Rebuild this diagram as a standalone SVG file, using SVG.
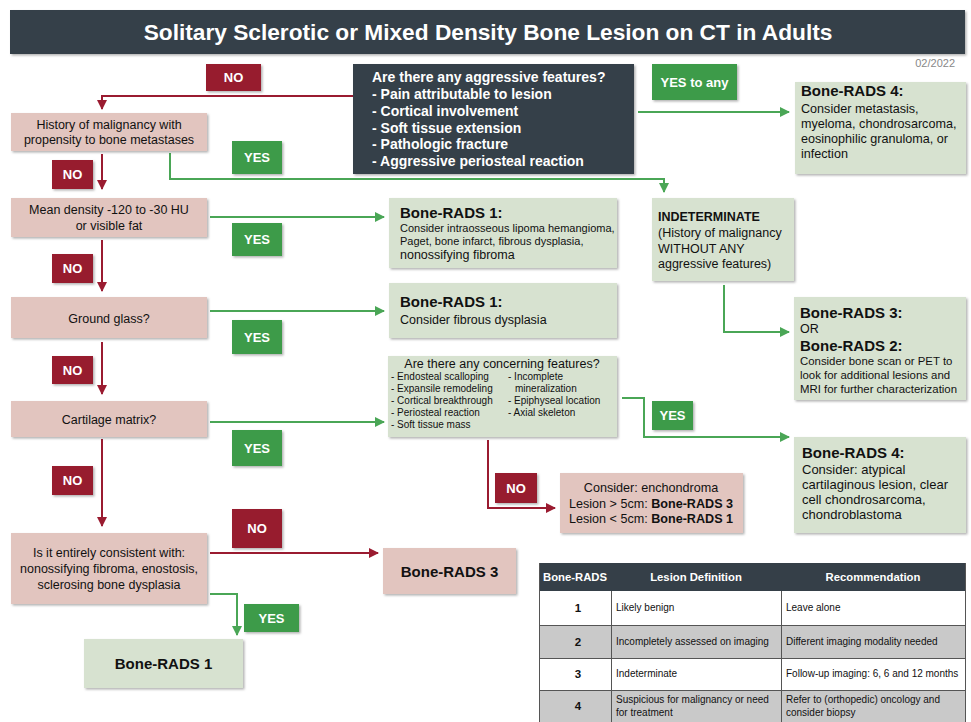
<svg xmlns="http://www.w3.org/2000/svg" width="971" height="722" viewBox="0 0 971 722">
<style>
text{font-family:"Liberation Sans",Arial,sans-serif;fill:#111}
.pink{fill:#e2c5bf}
.grn{fill:#d7e2d0}
.dark{fill:#353f48}
.lr{fill:#971a2f}
.lg{fill:#3d9b49}
.lt{fill:#fff;font-weight:bold;font-size:13px;text-anchor:middle}
.c{text-anchor:middle}
.b{font-weight:bold}
.wr{stroke:#9a1b30;stroke-width:2;fill:none}
.wg{stroke:#4aa656;stroke-width:2;fill:none}
.th{fill:#fff;font-weight:bold;font-size:11.3px;text-anchor:middle}
.td{font-size:10px}
</style>
<defs>
<filter id="sh" x="-10%" y="-10%" width="130%" height="130%">
<feDropShadow dx="1.5" dy="1.5" stdDeviation="1" flood-color="#000" flood-opacity="0.3"/>
</filter>
<marker id="ar" viewBox="0 0 10 10" refX="9" refY="5" markerWidth="5" markerHeight="5" orient="auto" markerUnits="strokeWidth"><path d="M0,0 L10,5 L0,10 z" fill="#9a1b30"/></marker>
<marker id="ag" viewBox="0 0 10 10" refX="9" refY="5" markerWidth="5" markerHeight="5" orient="auto" markerUnits="strokeWidth"><path d="M0,0 L10,5 L0,10 z" fill="#4aa656"/></marker>
</defs>
<rect width="971" height="722" fill="#fff"/>

<g id="title">
<rect x="10" y="10" width="955" height="44" class="dark" filter="url(#sh)"/>
<text x="488" y="40" class="c b" style="fill:#fff;font-size:22.7px">Solitary Sclerotic or Mixed Density Bone Lesion on CT in Adults</text>
<text x="955" y="67" style="fill:#888;font-size:11px;text-anchor:end">02/2022</text>
</g>

<g id="connectors">
<path class="wr" d="M353,96 H102 V109" marker-end="url(#ar)"/>
<path class="wr" d="M102,154 V189" marker-end="url(#ar)"/>
<path class="wr" d="M102,240 V291" marker-end="url(#ar)"/>
<path class="wr" d="M102,342 V394" marker-end="url(#ar)"/>
<path class="wr" d="M102,439 V526" marker-end="url(#ar)"/>
<path class="wr" d="M210,553 H378" marker-end="url(#ar)"/>
<path class="wr" d="M488,440 V508 H555" marker-end="url(#ar)"/>
<path class="wg" d="M638,112 H789" marker-end="url(#ag)"/>
<path class="wg" d="M170,153 V179 H664 V192" marker-end="url(#ag)"/>
<path class="wg" d="M210,217 H384" marker-end="url(#ag)"/>
<path class="wg" d="M210,311 H384" marker-end="url(#ag)"/>
<path class="wg" d="M210,422 H384" marker-end="url(#ag)"/>
<path class="wg" d="M724,285 V332 H789" marker-end="url(#ag)"/>
<path class="wg" d="M622,398 H644 V437 H789" marker-end="url(#ag)"/>
<path class="wg" d="M210,594 H237 V635" marker-end="url(#ag)"/>
</g>

<g id="labels">
<rect x="206" y="64" width="55" height="27" class="lr" filter="url(#sh)"/><text x="233.5" y="82" class="lt">NO</text>
<rect x="52" y="160" width="41" height="29" class="lr" filter="url(#sh)"/><text x="72.5" y="179" class="lt">NO</text>
<rect x="52" y="254" width="41" height="29" class="lr" filter="url(#sh)"/><text x="72.5" y="273" class="lt">NO</text>
<rect x="52" y="356" width="41" height="28" class="lr" filter="url(#sh)"/><text x="72.5" y="375" class="lt">NO</text>
<rect x="52" y="466" width="41" height="29" class="lr" filter="url(#sh)"/><text x="72.5" y="485" class="lt">NO</text>
<rect x="232" y="509" width="50" height="39" class="lr" filter="url(#sh)"/><text x="257" y="533" class="lt">NO</text>
<rect x="495" y="473" width="42" height="30" class="lr" filter="url(#sh)"/><text x="516" y="493" class="lt">NO</text>
<rect x="652" y="64" width="85" height="36" class="lg" filter="url(#sh)"/><text x="694.5" y="87" class="lt">YES to any</text>
<rect x="232" y="141" width="50" height="33" class="lg" filter="url(#sh)"/><text x="257" y="162" class="lt">YES</text>
<rect x="232" y="223" width="50" height="33" class="lg" filter="url(#sh)"/><text x="257" y="244" class="lt">YES</text>
<rect x="232" y="320" width="50" height="34" class="lg" filter="url(#sh)"/><text x="257" y="342" class="lt">YES</text>
<rect x="232" y="430" width="50" height="36" class="lg" filter="url(#sh)"/><text x="257" y="453" class="lt">YES</text>
<rect x="652" y="401" width="41" height="29" class="lg" filter="url(#sh)"/><text x="672.5" y="420" class="lt">YES</text>
<rect x="244" y="604" width="55" height="28" class="lg" filter="url(#sh)"/><text x="271.5" y="623" class="lt">YES</text>
</g>

<g id="aggressive">
<rect x="353" y="64" width="281" height="110" class="dark" filter="url(#sh)"/>
<g style="fill:#fff;font-weight:bold;font-size:14px">
<text x="372" y="82" style="fill:#fff">Are there any aggressive features?</text>
<text x="372" y="99" style="fill:#fff">- Pain attributable to lesion</text>
<text x="372" y="116" style="fill:#fff">- Cortical involvement</text>
<text x="372" y="133" style="fill:#fff">- Soft tissue extension</text>
<text x="372" y="149" style="fill:#fff">- Pathologic fracture</text>
<text x="372" y="166" style="fill:#fff">- Aggressive periosteal reaction</text>
</g>
</g>

<g id="history">
<rect x="11" y="113" width="196" height="38" class="pink" filter="url(#sh)"/>
<text x="109" y="129" class="c" font-size="12.5">History of malignancy with</text>
<text x="109" y="144" class="c" font-size="12.5">propensity to bone metastases</text>
</g>

<g id="density">
<rect x="11" y="198" width="196" height="39" class="pink" filter="url(#sh)"/>
<text x="109" y="214" class="c" font-size="12.5">Mean density -120 to -30 HU</text>
<text x="109" y="230" class="c" font-size="12.5">or visible fat</text>
</g>

<g id="ground">
<rect x="11" y="297" width="196" height="41" class="pink" filter="url(#sh)"/>
<text x="109" y="323" class="c" font-size="12.5">Ground glass?</text>
</g>

<g id="cartilage">
<rect x="11" y="401" width="196" height="36" class="pink" filter="url(#sh)"/>
<text x="109" y="424" class="c" font-size="12.5">Cartilage matrix?</text>
</g>

<g id="consistent">
<rect x="11" y="533" width="196" height="71" class="pink" filter="url(#sh)"/>
<text x="109" y="557" class="c" font-size="12.5">Is it entirely consistent with:</text>
<text x="109" y="573" class="c" font-size="12.5">nonossifying fibroma, enostosis,</text>
<text x="109" y="589" class="c" font-size="12.5">sclerosing bone dysplasia</text>
</g>

<g id="br1final">
<rect x="84" y="639" width="159" height="49" class="grn" filter="url(#sh)"/>
<text x="163.5" y="669" class="c b" font-size="15">Bone-RADS 1</text>
</g>

<g id="br3final">
<rect x="383" y="548" width="133" height="46" class="pink" filter="url(#sh)"/>
<text x="449.5" y="577" class="c b" font-size="15">Bone-RADS 3</text>
</g>

<g id="br1fat">
<rect x="389" y="198" width="228" height="70" class="grn" filter="url(#sh)"/>
<text x="400" y="218" class="b" font-size="15">Bone-RADS 1:</text>
<text x="400" y="232" font-size="11">Consider intraosseous lipoma hemangioma,</text>
<text x="400" y="245" font-size="11">Paget, bone infarct, fibrous dysplasia,</text>
<text x="400" y="259" font-size="12.5">nonossifying fibroma</text>
</g>

<g id="br1fd">
<rect x="389" y="283" width="228" height="55" class="grn" filter="url(#sh)"/>
<text x="400" y="307" class="b" font-size="15">Bone-RADS 1:</text>
<text x="400" y="324" font-size="12.5">Consider fibrous dysplasia</text>
</g>

<g id="concerning">
<rect x="388" y="356" width="229" height="81" class="grn" filter="url(#sh)"/>
<text x="502" y="368" class="c" font-size="12.5">Are there any concerning features?</text>
<g font-size="10">
<text x="391" y="380">- Endosteal scalloping</text>
<text x="391" y="392">- Expansile remodeling</text>
<text x="391" y="404">- Cortical breakthrough</text>
<text x="391" y="416">- Periosteal reaction</text>
<text x="391" y="428">- Soft tissue mass</text>
<text x="508" y="380">- Incomplete</text>
<text x="515" y="392">mineralization</text>
<text x="508" y="404">- Epiphyseal location</text>
<text x="508" y="416">- Axial skeleton</text>
</g>
</g>

<g id="enchondroma">
<rect x="560" y="473" width="183" height="60" class="pink" filter="url(#sh)"/>
<text x="651" y="492" class="c" font-size="12.6">Consider: enchondroma</text>
<text x="651" y="508" class="c" font-size="12.6">Lesion &gt; 5cm: <tspan class="b">Bone-RADS 3</tspan></text>
<text x="651" y="523" class="c" font-size="12.6">Lesion &lt; 5cm: <tspan class="b">Bone-RADS 1</tspan></text>
</g>

<g id="br4top">
<rect x="795" y="82" width="171" height="92" class="grn" filter="url(#sh)"/>
<text x="801" y="96" class="b" font-size="15">Bone-RADS 4:</text>
<text x="801" y="113" font-size="12.6">Consider metastasis,</text>
<text x="801" y="128" font-size="12.6">myeloma, chondrosarcoma,</text>
<text x="801" y="143" font-size="12.6">eosinophilic granuloma, or</text>
<text x="801" y="158" font-size="12.6">infection</text>
</g>

<g id="indeterminate">
<rect x="652" y="198" width="142" height="83" class="grn" filter="url(#sh)"/>
<text x="658" y="221" class="b" font-size="12.5">INDETERMINATE</text>
<text x="658" y="237" font-size="12.5">(History of malignancy</text>
<text x="658" y="253" font-size="12.5">WITHOUT ANY</text>
<text x="658" y="268" font-size="12.5">aggressive features)</text>
</g>

<g id="br32">
<rect x="794" y="297" width="172" height="103" class="grn" filter="url(#sh)"/>
<text x="800" y="318" class="b" font-size="15">Bone-RADS 3:</text>
<text x="800" y="333" font-size="12.5">OR</text>
<text x="800" y="351" class="b" font-size="15">Bone-RADS 2:</text>
<text x="800" y="365" font-size="11.4">Consider bone scan or PET to</text>
<text x="800" y="379" font-size="11.4">look for additional lesions and</text>
<text x="800" y="393" font-size="11.4">MRI for further characterization</text>
</g>

<g id="br4cart">
<rect x="794" y="437" width="172" height="96" class="grn" filter="url(#sh)"/>
<text x="802" y="458" class="b" font-size="15">Bone-RADS 4:</text>
<text x="802" y="474" font-size="13">Consider: atypical</text>
<text x="802" y="489" font-size="13">cartilaginous lesion, clear</text>
<text x="802" y="504" font-size="13">cell chondrosarcoma,</text>
<text x="802" y="519" font-size="13">chondroblastoma</text>
</g>

<g id="table">
<rect x="539" y="563" width="427" height="28" class="dark"/>
<rect x="539" y="591" width="427" height="34" fill="#fff"/>
<rect x="539" y="625" width="427" height="33" fill="#c9c9c9"/>
<rect x="539" y="658" width="427" height="32" fill="#fff"/>
<rect x="539" y="690" width="427" height="32" fill="#c9c9c9"/>
<g stroke="#555" stroke-width="1" fill="none">
<path d="M539.5,563 V722 M965.5,563 V722 M611.5,591 V722 M781.5,591 V722"/>
<path d="M539,625.5 H966 M539,658.5 H966 M539,690.5 H966"/>
</g>
<text x="575" y="581" class="th">Bone-RADS</text>
<text x="696" y="581" class="th">Lesion Definition</text>
<text x="873" y="581" class="th">Recommendation</text>
<text x="578" y="612" class="c b" font-size="11.5">1</text>
<text x="578" y="646" class="c b" font-size="11.5">2</text>
<text x="578" y="678" class="c b" font-size="11.5">3</text>
<text x="578" y="710" class="c b" font-size="11.5">4</text>
<text x="616" y="611" class="td">Likely benign</text>
<text x="616" y="645" class="td">Incompletely assessed on imaging</text>
<text x="616" y="677" class="td">Indeterminate</text>
<text x="616" y="703" class="td">Suspicious for malignancy or need</text>
<text x="616" y="716" class="td">for treatment</text>
<text x="786" y="611" class="td">Leave alone</text>
<text x="786" y="645" class="td">Different imaging modality needed</text>
<text x="786" y="677" class="td">Follow-up imaging: 6, 6 and 12 months</text>
<text x="786" y="703" class="td">Refer to (orthopedic) oncology and</text>
<text x="786" y="716" class="td">consider biopsy</text>
</g>
</svg>
